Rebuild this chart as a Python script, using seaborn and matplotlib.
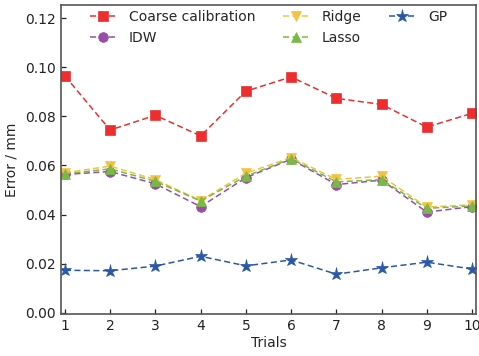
import numpy as np
import pandas as pd
import matplotlib
matplotlib.use("Agg")
import matplotlib.pyplot as plt
import seaborn as sns

trials = [1, 2, 3, 4, 5, 6, 7, 8, 9, 10]
coarse = [0.0964, 0.0744, 0.0804, 0.0720, 0.0902, 0.0960, 0.0873, 0.0848, 0.0756, 0.0812]
idw = [0.0563, 0.0575, 0.0525, 0.0432, 0.0550, 0.0625, 0.0522, 0.0540, 0.0410, 0.0432]
ridge = [0.0570, 0.0597, 0.0542, 0.0457, 0.0568, 0.0632, 0.0543, 0.0556, 0.0430, 0.0440]
lasso = [0.0565, 0.0586, 0.0535, 0.0455, 0.0556, 0.0627, 0.0533, 0.0542, 0.0425, 0.0435]
gp = [0.0173, 0.0171, 0.0190, 0.0230, 0.0191, 0.0215, 0.0157, 0.0183, 0.0206, 0.0178]

series = ["Coarse calibration", "IDW", "Ridge", "Lasso", "GP"]
values = [coarse, idw, ridge, lasso, gp]
colors = ["#EE2E2E", "#9A4DA6", "#F4C240", "#78BA45", "#2A58A8"]
markers = ["s", "o", "v", "^", "*"]
sizes = [7.2, 7.0, 7.2, 7.2, 9.5]

df = pd.DataFrame({
    "Trials": np.tile(trials, len(series)),
    "Error": np.concatenate(values),
    "Method": np.repeat(series, len(trials)),
})

sns.set_style("white")
plt.rcParams["font.family"] = ["DejaVu Sans"]

fig = plt.figure(figsize=(4.79, 3.56), dpi=100)
ax = fig.add_axes([0.127, 0.118, 0.867, 0.868])

for name, col, mk, ms in zip(series, colors, markers, sizes):
    sub = df[df["Method"] == name]
    sns.lineplot(data=sub, x="Trials", y="Error", ax=ax, color=col,
                 linestyle=(0, (4, 2.2)), linewidth=1.1, marker=mk,
                 markersize=ms, markeredgewidth=0.5, markeredgecolor=col,
                 label=name)

ax.set_xlim(0.91, 10.09)
ax.set_ylim(-0.0005, 0.1253)
ax.set_xticks(trials)
ax.set_yticks([0.0, 0.02, 0.04, 0.06, 0.08, 0.10, 0.12])
ax.set_yticklabels(["0.00", "0.02", "0.04", "0.06", "0.08", "0.10", "0.12"])
ax.set_xlabel("Trials", fontsize=10, labelpad=2)
ax.set_ylabel("Error / mm", fontsize=10, labelpad=5)
ax.tick_params(axis="both", direction="in", length=3.5, width=0.9, labelsize=10,
               colors="#222222", left=True, bottom=True, pad=3.5)
for s in ax.spines.values():
    s.set_color("#555555")
    s.set_linewidth(1.2)

ax.legend(ncol=3, loc="upper center", bbox_to_anchor=(0.5, 1.01), frameon=False,
          fontsize=10, handlelength=1.9, columnspacing=2.0, handletextpad=0.9,
          labelspacing=0.5, borderaxespad=0.2)

fig.savefig("out.png", dpi=100)
